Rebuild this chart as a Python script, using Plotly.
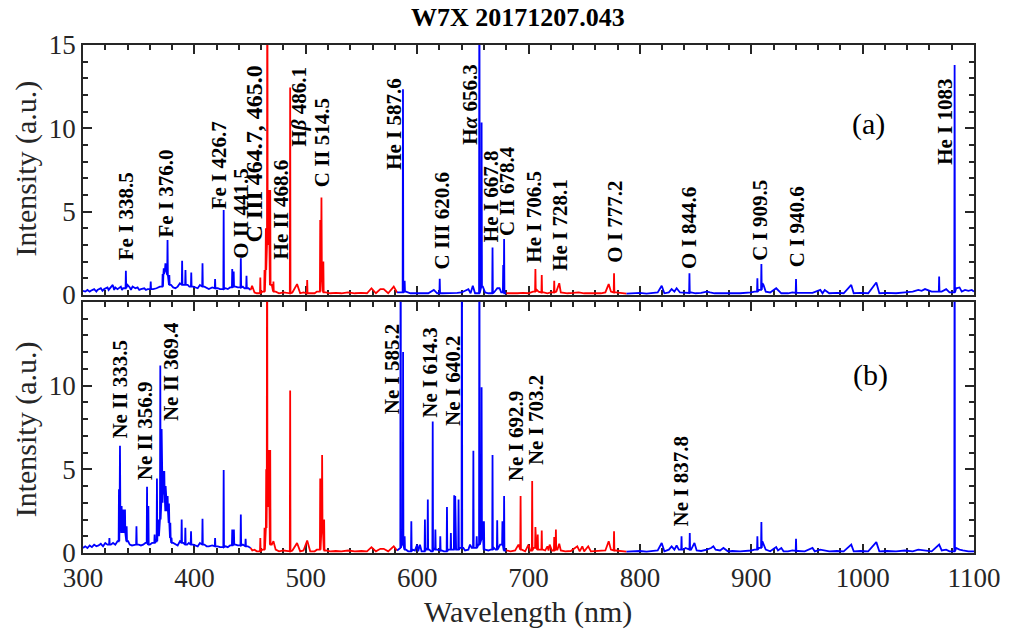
import plotly.graph_objects as go

# ---------------- data: (wavelength nm, intensity a.u.) ----------------
# Panel (a)
a_blue_1 = [(300,0.25),(302,0.2),(304,0.3),(306,0.2),(307,0.25),(310,0.35),(312,0.2),(313,0.3),(316,0.4),(317.5,0.25),(319,0.35),
            (322,0.45),(323,0.3),(324,0.4),(326.7,0.6),(328,0.3),(329,0.45),(331,0.35),(334,0.5),(335,0.3),(336,0.4),(338.5,1.45),
            (340,0.6),(342,0.45),(343,0.3),(344.5,0.5),(347,0.4),(349,0.45),(350.5,0.3),(352,0.35),(355,0.4),(356.5,0.3),(358,0.35),
            (360.8,0.8),(363,0.35),(366,0.4),(369,0.5),(371.5,1.25),(372.5,1.6),(374,1.9),(375.9,3.3),(377.5,1.2),(379,0.6),
            (381,0.45),(383,0.4),(385,0.5),(387,0.7),(389,2.05),(390.5,0.6),(392,1.5),(394,0.6),(395.5,0.5),(397.2,1.35),(399,0.5),
            (401,0.45),(403,0.4),(405,0.6),(407.3,1.9),(409,0.5),(411,0.4),(413,0.35),(416,0.45),(418.6,0.95),(421,0.4),(423,0.35),
            (426.3,5.1),(428,0.4),(430,0.35),(432,0.45),(434,1.55),(435.3,1.4),(437,0.5),(439,0.45),(441.7,2.2),(443.5,0.5),
            (445,0.4),(446.8,1.15),(448.5,0.4),(450.5,0.3)]
a_red_1 = [(450.5,0.3),(451.8,0.55),(454,0.15),(456,0.1),(459.2,1.05),(461,0.2),(463,1.5),(464.2,4.0),(465.5,25.0),(466.5,3.0),
           (468.1,6.3),(469.5,0.6),(471,0.8),(473,0.2),(476,0.1),(480,0.15),(483,0.1),(486.0,12.45),(488,0.15),(492.2,0.65),
           (495,0.1),(498,0.15),(501.3,0.9),(504,0.1),(508,0.1),(510,0.2),(513.0,4.5),(514.1,5.85),(515.8,2.0),(518,0.15),
           (522,0.1),(527,0.12),(532,0.1),(538,0.15),(544,0.1),(550,0.12),(555,0.1),(559,0.4),(563,0.1),(567,0.35),(570,0.35),
           (574,0.1),(579,0.5),(582,0.15)]
a_blue_2 = [(582,0.15),(585,0.15),(587.3,12.35),(588.8,0.85),(590,0.2),(594,0.1),(600,0.1),(606,0.12),(610,0.1),(615,0.3),
            (618,0.1),(620.3,0.97),(623,0.1),(630,0.1),(636,0.12),(640,0.15),(646,0.35),(648,0.1),(650,0.55),(652,0.1),
            (655.9,25.0),(657.9,10.35),(659,0.5),(661,0.15),(664,0.1),(667.7,2.85),(669,0.15),(672,0.4),(674,0.4),(675.5,0.15),
            (677.3,1.8),(678.1,3.35),(680,0.1)]
a_red_2 = [(680,0.1),(685,0.08),(690,0.1),(695,0.12),(700,0.1),(704,0.2),(706.2,1.55),(707.5,0.3),(709,0.2),(711.9,1.2),
           (713.5,0.15),(717,0.1),(720,0.15),(723.1,0.85),(725,0.2),(727.6,0.7),(729,0.15),(735,0.1),(740,0.12),(745,0.15),
           (750,0.1),(755,0.12),(760,0.1),(765,0.1),(769,0.15),(772,0.65),(774,0.2),(776.8,1.3),(778.5,0.15),(783,0.1),(788,0.08)]
a_blue_3 = [(788,0.08),(795,0.1),(800,0.12),(806,0.08),(812,0.1),(816,0.15),(819.6,0.55),(822,0.1),(826,0.15),(828.5,0.35),
            (831,0.2),(833,0.4),(836,0.15),(840,0.12),(844.5,1.3),(846,0.15),(850,0.1),(855,0.12),(860,0.2),(863,0.15),(867,0.1),
            (872,0.1),(878,0.12),(883,0.1),(890,0.1),(895,0.12),(900,0.15),(903,0.2),(905.5,1.0),(907,0.3),(909.1,1.85),(910,0.7),
            (911,0.6),(913,0.2),(917,0.15),(922.4,0.4),(924,0.3),(927,0.1),(933,0.1),(937,0.15),(940.2,0.95),(942,0.12),(948,0.1),
            (955,0.12),(962,0.3),(964,0.1),(966,0.3),(970,0.1),(977,0.12),(983,0.1),(989.8,0.6),(992,0.1),(998,0.12),(1005,0.1),
            (1012.3,0.75),(1015,0.1),(1022,0.12),(1030,0.1),(1038,0.15),(1045,0.2),(1050,0.3),(1053,0.25),(1056,0.35),(1058,0.3),
            (1062,0.2),(1068.7,1.1),(1071,0.2),(1075,0.35),(1078,0.15),(1082.6,13.8),(1084,0.4),(1087,0.45),(1089,0.2),(1092,0.3),
            (1095,0.25),(1098,0.3),(1100,0.2)]

# Panel (b)
b_blue_1 = [(300,0.3),(302,0.4),(304,0.3),(306,0.45),(308,0.35),(310,0.5),(312,0.4),(314,0.45),(316,0.55),(318,0.4),(320,0.6),
            (322,0.5),(323.7,0.9),(325,0.5),(327,0.6),(329,0.5),(331,0.7),(332.3,3.8),(333.2,6.4),(334.7,2.8),(336,1.2),(337.7,2.6),
            (339.2,1.6),(340.5,0.7),(342,0.5),(344,0.45),(346,0.5),(348,1.6),(350,0.5),(352,0.45),(354,0.5),(356,0.6),(357.5,3.95),
            (358.7,2.8),(360,0.5),(362,0.6),(364.3,1.1),(365.5,0.7),(366.4,4.45),(367.5,1.0),(368.5,2.0),(369.4,11.2),(370.3,3.0),
            (371.2,7.4),(372,3.5),(373,4.9),(374.2,4.0),(375,2.5),(376,3.4),(377.2,2.95),(378.4,1.8),(379.5,0.9),(381,0.6),(383,0.5),
            (385,0.45),(387,0.7),(388.6,2.0),(390,0.6),(391.9,1.5),(393.5,0.5),(395,0.6),(397,1.3),(399,0.5),(401,0.45),(403,0.4),
            (405,0.6),(407.3,2.05),(409,0.5),(411,0.4),(413,0.4),(416,0.45),(418.6,0.9),(421,0.4),(423,0.35),(426.3,4.95),(428,0.4),
            (430,0.35),(432,0.45),(434,1.4),(435.5,1.4),(437,0.5),(439,0.45),(441.7,2.3),(443.5,0.5),(446,0.85),(448,0.4),(450.5,0.3)]
b_red_1 = [(450.5,0.3),(452,0.15),(454,0.2),(456,0.1),(459.2,0.9),(461,0.2),(463,1.5),(464.5,5.0),(465.3,25.0),(466.5,2.75),
           (468.1,6.15),(469.5,0.5),(471,0.7),(473,0.2),(476,0.1),(480,0.15),(483,0.1),(486.0,9.7),(488,0.15),(492.2,0.6),
           (495,0.1),(498,0.15),(501.3,0.75),(504,0.1),(508,0.1),(510,0.2),(513.0,4.45),(514.7,5.85),(516.5,2.0),(518,0.15),
           (522,0.1),(527,0.12),(532,0.1),(538,0.15),(544,0.1),(550,0.12),(555,0.1),(559,0.35),(563,0.1),(567,0.25),(570,0.25),
           (574,0.1),(579,0.4),(582,0.15)]
b_blue_2 = [(582,0.15),(584,0.3),(585.2,25.0),(586,0.5),(587.4,12.0),(588.8,1.0),(590,0.2),(592,0.1),(594.8,1.9),(596,0.2),
            (598,0.15),(600,0.5),(601,0.1),(602.5,0.5),(604,0.1),(607,2.0),(608.3,0.3),(609.6,3.2),(611,0.2),(612.5,0.1),
            (614.0,7.85),(615,0.3),(616.4,1.4),(618,0.2),(620.8,1.0),(622,0.15),(624,0.1),(626.8,2.75),(628,0.2),(630.3,1.2),
            (631.5,0.2),(633.3,3.45),(634.2,3.4),(635,0.2),(637.2,3.2),(638.5,0.3),(640.2,25.0),(641.5,0.3),(643,0.15),(646,0.2),
            (647.5,0.5),(649,0.3),(650.5,6.1),(652,0.3),(653.5,1.0),(655,0.5),(655.9,25.0),(657.9,9.9),(659,0.8),(660,1.9),(661,0.2),
            (664,0.15),(666,0.2),(667.7,5.85),(669,0.3),(670.5,0.2),(671.9,1.95),(673,0.3),(674.5,0.5),(676.6,1.9),(678.1,3.4),
            (680,0.15)]
b_red_2 = [(680,0.15),(684,0.1),(688,0.15),(691,0.5),(692.9,3.4),(694,0.2),(697,0.1),(700,0.5),(701.5,0.15),(703.3,4.3),
           (704.5,0.3),(706.2,1.55),(707,0.3),(708.3,1.1),(709.5,0.2),(711.9,1.35),(713,0.2),(715,0.15),(717,0.4),(718,0.15),
           (719,0.5),(721,0.15),(723.1,0.95),(724.6,1.4),(726,0.2),(727.6,0.55),(729,0.15),(733,0.1),(738,0.12),(743.8,0.4),
           (746,0.1),(748.3,0.4),(750,0.1),(753.6,0.4),(756,0.1),(760,0.12),(765,0.1),(769,0.15),(772,0.7),(774,0.2),(776.8,1.3),
           (778.5,0.15),(783,0.1),(788,0.08)]
b_blue_3 = [(788,0.08),(795,0.1),(800,0.12),(806,0.08),(812,0.1),(816,0.15),(819.6,0.6),(822,0.1),(826,0.2),(828.5,0.4),
            (831,0.2),(833,0.45),(835,0.2),(837.4,1.0),(839,0.2),(841,0.3),(844.8,1.2),(846,0.2),(849,0.6),(851,0.15),(855,0.12),
            (860,0.2),(864,0.3),(866,0.4),(868,0.2),(872,0.15),(875,0.3),(879,0.1),(883,0.12),(890,0.1),(895,0.12),(900,0.15),
            (903,0.2),(905.5,1.0),(907,0.3),(909.1,1.85),(910,0.7),(911,0.5),(913,0.2),(917,0.1),(922.4,0.35),(924,0.15),(927,0.3),
            (929,0.1),(933,0.1),(937,0.15),(940.2,0.85),(942,0.12),(948,0.1),(955,0.3),(957,0.1),(962,0.2),(966,0.15),(970,0.1),
            (977,0.12),(983,0.1),(989.8,0.5),(992,0.1),(998,0.12),(1005,0.1),(1012.3,0.65),(1015,0.1),(1022,0.12),(1030,0.1),
            (1038,0.15),(1045,0.1),(1050,0.2),(1055,0.15),(1062,0.1),(1068.7,0.5),(1071,0.15),(1075,0.2),(1078,0.1),(1082.6,25.0),
            (1084,0.3),(1087,0.2),(1090,0.15),(1095,0.1),(1100,0.1)]

# line labels: (text, label wavelength, label bottom intensity)
labels_a = [("Fe I 338.5", 338.3, 2.0), ("Fe I 376.0", 374.7, 3.4), ("Fe I 426.7", 422.4, 5.1),
            ("O II 441.5", 441.7, 2.1), ("C III 464.7, 465.0", 453.3, 3.1), ("He II 468.6", 477.3, 2.1),
            ("H<i>β</i> 486.1", 494.0, 8.85), ("C II 514.5", 514.1, 6.4), ("He I 587.6", 579.3, 7.45),
            ("C III 620.6", 622.3, 1.5), ("H<i>α</i> 656.3", 647.5, 8.95), ("He I 667.8", 666.2, 3.1),
            ("C II 678.4", 680.2, 3.5), ("He I 706.5", 705.3, 1.9), ("He I 728.1", 727.6, 1.4),
            ("O I 777.2", 778.0, 1.9), ("O I 844.6", 844.1, 1.5), ("C I 909.5", 907.6, 2.0),
            ("C I 940.6", 940.6, 1.6), ("He I 1083", 1074.0, 7.75)]
labels_b = [("Ne II 333.5", 333.2, 6.8), ("Ne II 356.9", 355.4, 4.3), ("Ne II 369.4", 379.2, 7.8),
            ("Ne I 585.2", 577.0, 8.2), ("Ne I 614.3", 612.0, 8.05), ("Ne I 640.2", 632.7, 7.5),
            ("Ne I 692.9", 688.2, 4.25), ("Ne I 703.2", 706.9, 5.2), ("Ne I 837.8", 836.5, 1.5)]

BLUE = "#0000ff"
RED = "#ff0000"
AXC = "#262626"
FONT = "Liberation Serif"

segments_a = [(a_blue_1, BLUE), (a_red_1, RED), (a_blue_2, BLUE), (a_red_2, RED), (a_blue_3, BLUE)]
segments_b = [(b_blue_1, BLUE), (b_red_1, RED), (b_blue_2, BLUE), (b_red_2, RED), (b_blue_3, BLUE)]


def stick_path(points):
    """Connect points; strong lines get narrow feet at the neighbouring level."""
    xs, ys = [], []
    n = len(points)
    for i, (w, v) in enumerate(points):
        if v >= 0.8 and 0 < i < n - 1:
            foot = min(points[i - 1][1], points[i + 1][1])
            xs += [w - 0.3, w, w + 0.3]
            ys += [foot, v, foot]
        else:
            xs.append(w)
            ys.append(v)
    return xs, ys


fig = go.Figure()
for segs, xa, ya in [(segments_a, "x", "y"), (segments_b, "x2", "y2")]:
    for pts, col in segs:
        xs, ys = stick_path(pts)
        fig.add_trace(go.Scatter(x=xs, y=ys, mode="lines", line=dict(color=col, width=1.8),
                                 xaxis=xa, yaxis=ya, showlegend=False, hoverinfo="skip"))

common_x = dict(range=[300, 1100], tick0=300, dtick=100, ticks="inside", ticklen=9, tickwidth=1.5,
                tickcolor=AXC, showline=True, linecolor=AXC, linewidth=1.5, mirror="allticks",
                showgrid=False, zeroline=False, layer="below traces",
                minor=dict(dtick=20, ticks="inside", ticklen=5, tickwidth=1.5, tickcolor=AXC),
                tickfont=dict(family=FONT, size=27, color=AXC))
common_y = dict(range=[0, 15], ticks="inside", ticklen=9, tickwidth=1.5,
                tickcolor=AXC, showline=True, linecolor=AXC, linewidth=1.5, mirror="allticks",
                showgrid=False, zeroline=False, layer="below traces",
                minor=dict(dtick=1, ticks="inside", ticklen=5, tickwidth=1.5, tickcolor=AXC),
                tickfont=dict(family=FONT, size=27, color=AXC))

fig.update_layout(
    width=1013, height=630,
    margin=dict(l=83, r=31, t=45, b=77),
    paper_bgcolor="white", plot_bgcolor="white",
    xaxis=dict(common_x, anchor="y", domain=[0, 1], showticklabels=False),
    yaxis=dict(common_y, anchor="x", domain=[0.508, 1], tickmode="array", tickvals=[0, 5, 10, 15]),
    xaxis2=dict(common_x, anchor="y2", domain=[0, 1], showticklabels=True),
    yaxis2=dict(common_y, anchor="x2", domain=[0, 0.4944], tickmode="array", tickvals=[0, 5, 10]),
)

PX = 899.0 / 800.0  # pixels per nm in the plot area
H = 508.3           # plot-area height in pixels
ann = []
for lbls, xr, yr in [(labels_a, "x", "y"), (labels_b, "x2", "y2")]:
    for txt, w, v in lbls:
        size = 24 if txt.startswith("C III 464") else 21
        ann.append(dict(text="<b>" + txt + "</b>", x=w, y=v, xref=xr, yref=yr, showarrow=False,
                        textangle=-90, xanchor="center", yanchor="bottom", borderpad=0,
                        font=dict(family=FONT, size=size, color="black")))
ann.append(dict(text="(a)", x=300 + (876 - 83) / PX, y=(553.3 - 124) / H, xref="x", yref="paper",
                showarrow=False, xanchor="center", yanchor="middle", font=dict(family=FONT, size=30, color="black")))
ann.append(dict(text="(b)", x=300 + (878 - 83) / PX, y=(553.3 - 375) / H, xref="x2", yref="paper",
                showarrow=False, xanchor="center", yanchor="middle", font=dict(family=FONT, size=30, color="black")))
ann.append(dict(text="<b>W7X 20171207.043</b>", x=(522 - 83) / 899, y=(553.3 - 17) / H, xref="paper", yref="paper",
                showarrow=False, xanchor="center", yanchor="middle", font=dict(family=FONT, size=26, color="black")))
ann.append(dict(text="Wavelength (nm)", x=(532 - 83) / 899, y=(553.3 - 612) / H, xref="paper", yref="paper",
                showarrow=False, xanchor="center", yanchor="middle", font=dict(family=FONT, size=30, color=AXC)))
for yc in [169, 430]:
    ann.append(dict(text="Intensity (a.u.)", x=(25 - 83) / 899, y=(553.3 - yc) / H, xref="paper", yref="paper",
                    showarrow=False, textangle=-90, xanchor="center", yanchor="middle",
                    font=dict(family=FONT, size=30, color=AXC)))
fig.update_layout(annotations=ann)

fig.write_html("out.html", config={"displayModeBar": False},
               post_script="document.body.style.margin='0px';")
